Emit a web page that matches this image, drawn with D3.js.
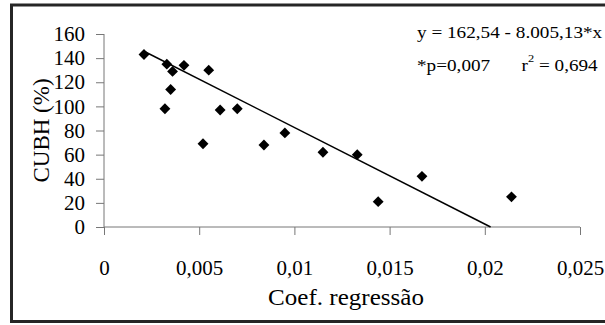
<!DOCTYPE html>
<html>
<head>
<meta charset="utf-8">
<script src="https://cdn.jsdelivr.net/npm/d3@7"></script>
<style>
  body { margin: 0; background: #fff; }
  text { font-family: "Liberation Serif", "Times New Roman", serif; fill: #000; }
</style>
</head>
<body>
<svg id="chart" width="605" height="325"></svg>
<script>
// dati
const coefX = [0.0021, 0.0033, 0.0042, 0.0036, 0.0035, 0.0032, 0.0052, 0.0055, 0.0061, 0.0070, 0.0084, 0.0095, 0.0115, 0.0133, 0.0144, 0.0167, 0.0214]
const cubhY = [143, 135, 134, 129, 114, 98, 69, 130, 97, 98, 68, 78, 62, 60, 21, 42, 25]
const xTicks = [0, 0.005, 0.01, 0.015, 0.02, 0.025]
const xTickLabels = ['0', '0,005', '0,01', '0,015', '0,02', '0,025']
const yTicks = [0, 20, 40, 60, 80, 100, 120, 140, 160]
const intercept = 162.54
const slope = -8005.13

const svg = d3.select('#chart')

// cornice
svg.append('rect')
  .attr('x', 11.5)
  .attr('y', 5)
  .attr('width', 620)
  .attr('height', 316.5)
  .attr('fill', 'none')
  .attr('stroke', '#262626')
  .attr('stroke-width', 3)

const xScale = d3.scaleLinear()
  .domain([0, 0.025])
  .range([104, 580])

const yScale = d3.scaleLinear()
  .domain([0, 160])
  .range([227, 34])

const axisColor = '#777'

// asse y
const yAxisGroup = svg.append('g')
  .attr('transform', 'translate(104, 0)')
  .call(d3.axisLeft(yScale).tickValues(yTicks).tickSize(8).tickPadding(11).tickFormat(d => d))
yAxisGroup.select('.domain').attr('stroke', axisColor).attr('d', `M0,${yScale(160)}V${yScale(0)}`)
yAxisGroup.selectAll('.tick line').attr('stroke', axisColor)
yAxisGroup.selectAll('.tick text')
  .attr('fill', '#000')
  .style('font-size', '21px')
  .style('font-family', '"Liberation Serif", serif')

// asse x
const xAxisGroup = svg.append('g')
  .attr('transform', 'translate(0, 227)')
  .call(d3.axisBottom(xScale).tickValues(xTicks).tickSize(8).tickFormat((d, i) => xTickLabels[i]))
xAxisGroup.select('.domain').attr('stroke', axisColor).attr('d', `M${xScale(0)},0H${xScale(0.025)}`)
xAxisGroup.selectAll('.tick line').attr('stroke', axisColor)
xAxisGroup.selectAll('.tick text')
  .attr('fill', '#000')
  .attr('dy', null)
  .attr('y', 48)
  .style('font-size', '21px')
  .style('font-family', '"Liberation Serif", serif')

// retta di regressione
const xEnd = Math.min(d3.max(coefX), -intercept / slope)
svg.append('line')
  .attr('x1', xScale(d3.min(coefX)))
  .attr('y1', yScale(intercept + slope * d3.min(coefX)))
  .attr('x2', xScale(xEnd))
  .attr('y2', yScale(intercept + slope * xEnd))
  .attr('stroke', '#000')
  .attr('stroke-width', 1.5)

// punti
const diamond = d3.symbol().type(d3.symbolDiamond2).size(75)
svg.selectAll('path.pt')
  .data(coefX)
  .enter()
  .append('path')
  .attr('class', 'pt')
  .attr('d', diamond)
  .attr('transform', (d, i) => `translate(${xScale(d)}, ${yScale(cubhY[i])})`)
  .attr('fill', '#000')

// titoli degli assi
svg.append('text')
  .attr('transform', `translate(49, ${(yScale(0) + yScale(160)) / 2}) rotate(-90)`)
  .style('text-anchor', 'middle')
  .style('font-size', '23px')
  .text('CUBH (%)')

svg.append('text')
  .attr('transform', 'translate(346, 305) scale(1.09, 1)')
  .style('text-anchor', 'middle')
  .style('font-size', '23px')
  .text('Coef. regressão')

// equazione
svg.append('text')
  .attr('transform', 'translate(417, 37.5) scale(1.13, 1)')
  .style('font-size', '17px')
  .text('y = 162,54 - 8.005,13*x')

svg.append('text')
  .attr('transform', 'translate(417, 70.5) scale(1.13, 1)')
  .style('font-size', '17px')
  .text('*p=0,007')

const r2 = svg.append('text')
  .attr('transform', 'translate(521.5, 70.5) scale(1.13, 1)')
  .style('font-size', '17px')
r2.append('tspan').text('r')
r2.append('tspan').attr('dy', -9).style('font-size', '11px').text('2')
r2.append('tspan').attr('dy', 9).text(' = 0,694')
</script>
</body>
</html>
